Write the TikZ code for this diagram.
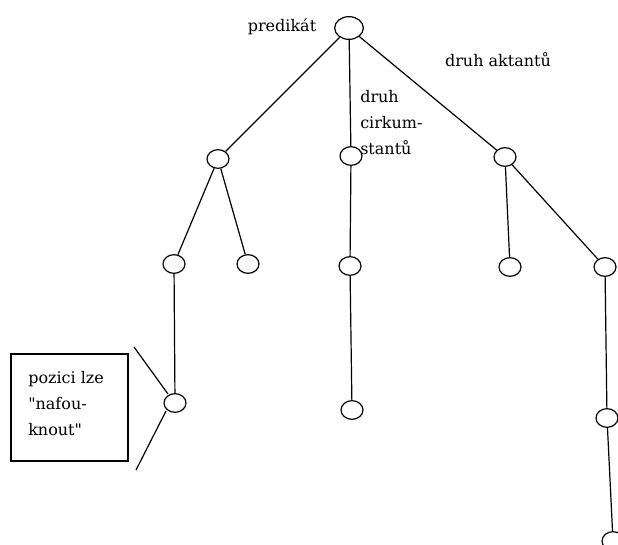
\documentclass[tikz,border=0pt]{standalone}
\usepackage{fontspec}
\setmainfont{DejaVu Serif}[Ligatures=TeXOff]
\usetikzlibrary{shapes.geometric}
\begin{document}
\begin{tikzpicture}[x=0.75pt,y=-0.75pt,
  every node/.style={font=\fontsize{12pt}{19.5pt}\selectfont},
  vert/.style={draw,ellipse,line width=0.9pt,minimum width=16.5pt,minimum height=14pt,inner sep=0pt},
  rootv/.style={vert,minimum width=21.5pt,minimum height=17pt},
  edge/.style={line width=0.9pt},
  lbl/.style={inner sep=0pt}]
\useasboundingbox (0,0) rectangle (618,545);
% vertices
\node[rootv] (r) at (349,28) {};
\node[vert] (a) at (218,159) {};
\node[vert] (b) at (351,156) {};
\node[vert] (c) at (505,157) {};
\node[vert] (a1) at (174,264) {};
\node[vert] (a2) at (248,264) {};
\node[vert] (b1) at (350,266) {};
\node[vert] (c1) at (510,267) {};
\node[vert] (c2) at (605,267) {};
\node[vert] (a11) at (175,403) {};
\node[vert] (b11) at (352,410) {};
\node[vert] (c21) at (607,418) {};
\node[vert] (c211) at (613,541) {};
% edges
\draw[edge] (r) -- (a);
\draw[edge] (r) -- (b);
\draw[edge] (r) -- (c);
\draw[edge] (a) -- (a1);
\draw[edge] (a) -- (a2);
\draw[edge] (b) -- (b1);
\draw[edge] (c) -- (c1);
\draw[edge] (c) -- (c2);
\draw[edge] (a1) -- (a11);
\draw[edge] (b1) -- (b11);
\draw[edge] (c2) -- (c21);
\draw[edge] (c21) -- (c211);
% labels
\node[lbl] (lp) at (282,27) {predikát};
\node[lbl] (la) at (498,60) {druh aktantů};
\node[lbl,anchor=west,align=left] (lc) at (360,123) {druh\\cirkum-\\stantů};
% box
\node[draw,line width=0.9pt,minimum width=87.75pt,minimum height=80.25pt,inner sep=0pt] (box) at (69.5,407.5) {};
\node[lbl,anchor=west,align=left] (bt) at (28,404) {pozici lze\\"nafou-\\knout"};
% inflate lines
\coordinate (u1) at (134,347);
\coordinate (u2) at (168,394);
\coordinate (d1) at (166,411);
\coordinate (d2) at (136,470);
\draw[edge] (u1) -- (u2);
\draw[edge] (d1) -- (d2);
\end{tikzpicture}
\end{document}
